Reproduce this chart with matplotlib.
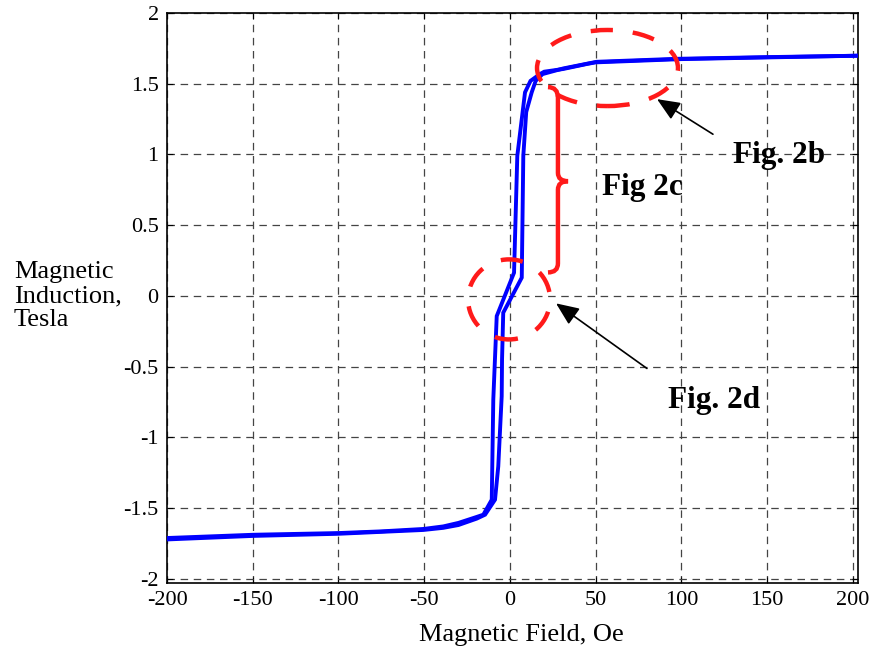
import matplotlib
matplotlib.use("Agg")
import matplotlib.pyplot as plt
from matplotlib.patches import Ellipse, PathPatch
from matplotlib.path import Path

plt.rcParams['font.family'] = ['Liberation Serif', 'DejaVu Serif']

# Descending branch (from +saturation to -saturation)
h_down = [203, 150, 100, 50, 45, 31, 20, 17.5, 12, 8.8, 4.3, 2.4, -7.7, -9.7, -10.6, -15.5,
          -19.4, -30, -38.9, -50.5, -75, -100.1, -149.7, -200]
b_down = [1.698, 1.686, 1.674, 1.651, 1.64, 1.604, 1.585, 1.568, 1.52, 1.439, 0.99, 0.164, -0.143,
          -0.733, -1.441, -1.547, -1.563, -1.605, -1.630, -1.648, -1.665, -1.677, -1.689, -1.712]
# Ascending branch (from -saturation to +saturation)
h_up = [-200, -149.7, -100.1, -50.5, -38.9, -30, -19.4, -14.5, -8.7, -6.8, -4.8, -4.6, -3.9,
        6.9, 7.8, 9.5, 12.7, 15, 19, 31.1, 50.6, 97.3, 149.8, 203]
b_up = [-1.722, -1.697, -1.682, -1.655, -1.640, -1.62, -1.575, -1.547, -1.441, -1.205, -0.709,
        -0.45, -0.119, 0.129, 0.99, 1.3, 1.439, 1.52, 1.568, 1.608, 1.655, 1.676, 1.688, 1.698]

x_ticks = [-200, -150, -100, -50, 0, 50, 100, 150, 200]
y_ticks = [-2, -1.5, -1, -0.5, 0, 0.5, 1, 1.5, 2]
y_ticklabels = ['-2', '-1.5', '-1', '-0.5', '0', '0.5', '1', '1.5', '2']

W, H = 872, 647
fig = plt.figure(figsize=(W / 100, H / 100), dpi=100)
ax = fig.add_axes([167 / W, 1 - 583 / H, (858 - 167) / W, (583 - 13) / H])

ax.plot(h_down, b_down, color='#0000ff', lw=2.8, solid_joinstyle='miter', zorder=3)
ax.plot(h_up, b_up, color='#0000ff', lw=2.8, solid_joinstyle='miter', zorder=3)

ax.set_xlim(-200, 203)
ax.set_ylim(-2.03, 2.0)
ax.set_xticks(x_ticks)
ax.set_xticklabels([str(v) for v in x_ticks])
ax.set_yticks(y_ticks)
ax.set_yticklabels(y_ticklabels)
ax.tick_params(direction='in', length=4, width=0.8, labelsize=16, top=True, right=True, pad=6)
ax.grid(True, color='#444444', lw=0.9, linestyle=(0, (6, 4.5)))
for s in ax.spines.values():
    s.set_linewidth(1.2)

# red dashed ellipses
red = '#ff1a1a'
e1 = Ellipse((56.9, 1.611), 82.2, 0.538, fill=False, edgecolor=red, lw=3.2,
             linestyle=(0, (5, 4.5)), zorder=4)
e2 = Ellipse((-0.5, -0.025), 47.8, 0.566, fill=False, edgecolor=red, lw=3.2,
             linestyle=(3, (5, 4.5)), zorder=4)
ax.add_patch(e1)
ax.add_patch(e2)

# curly brace
verts = [(22.2, 1.476), (28.0, 1.476), (28.0, 1.40),
         (28.0, 0.87),
         (28.0, 0.811), (33.9, 0.811),
         (28.0, 0.811), (28.0, 0.75),
         (28.0, 0.23),
         (28.0, 0.166), (22.2, 0.166)]
codes = [Path.MOVETO, Path.CURVE3, Path.CURVE3, Path.LINETO,
         Path.CURVE3, Path.CURVE3, Path.CURVE3, Path.CURVE3,
         Path.LINETO, Path.CURVE3, Path.CURVE3]
ax.add_patch(PathPatch(Path(verts, codes), fill=False, edgecolor=red, lw=3.2, zorder=4))

# arrows
arrow_kw = dict(arrowstyle='-|>,head_length=1.4,head_width=0.6', color='black', lw=1.2,
                shrinkA=0, shrinkB=0)
ax.annotate('', xy=(85.8, 1.391), xytext=(118.4, 1.143), arrowprops=arrow_kw, zorder=5)
ax.annotate('', xy=(26.9, -0.053), xytext=(79.9, -0.513), arrowprops=arrow_kw, zorder=5)

# annotation texts
def ftext(px, py, s, **kw):
    fig.text(px / W, 1 - py / H, s, **kw)

ftext(733, 163, 'Fig. 2b', fontsize=22.5, fontweight='bold', va='baseline', ha='left')
ftext(602, 195, 'Fig 2c', fontsize=22.5, fontweight='bold', va='baseline', ha='left')
ftext(668, 408, 'Fig. 2d', fontsize=22.5, fontweight='bold', va='baseline', ha='left')

# axis labels
ftext(521, 641, 'Magnetic Field, Oe', fontsize=19, va='baseline', ha='center')
ftext(14, 296, 'Magnetic\nInduction,\nTesla', fontsize=19, va='center', ha='left',
      linespacing=1.1)

fig.savefig('out.png', dpi=100)
